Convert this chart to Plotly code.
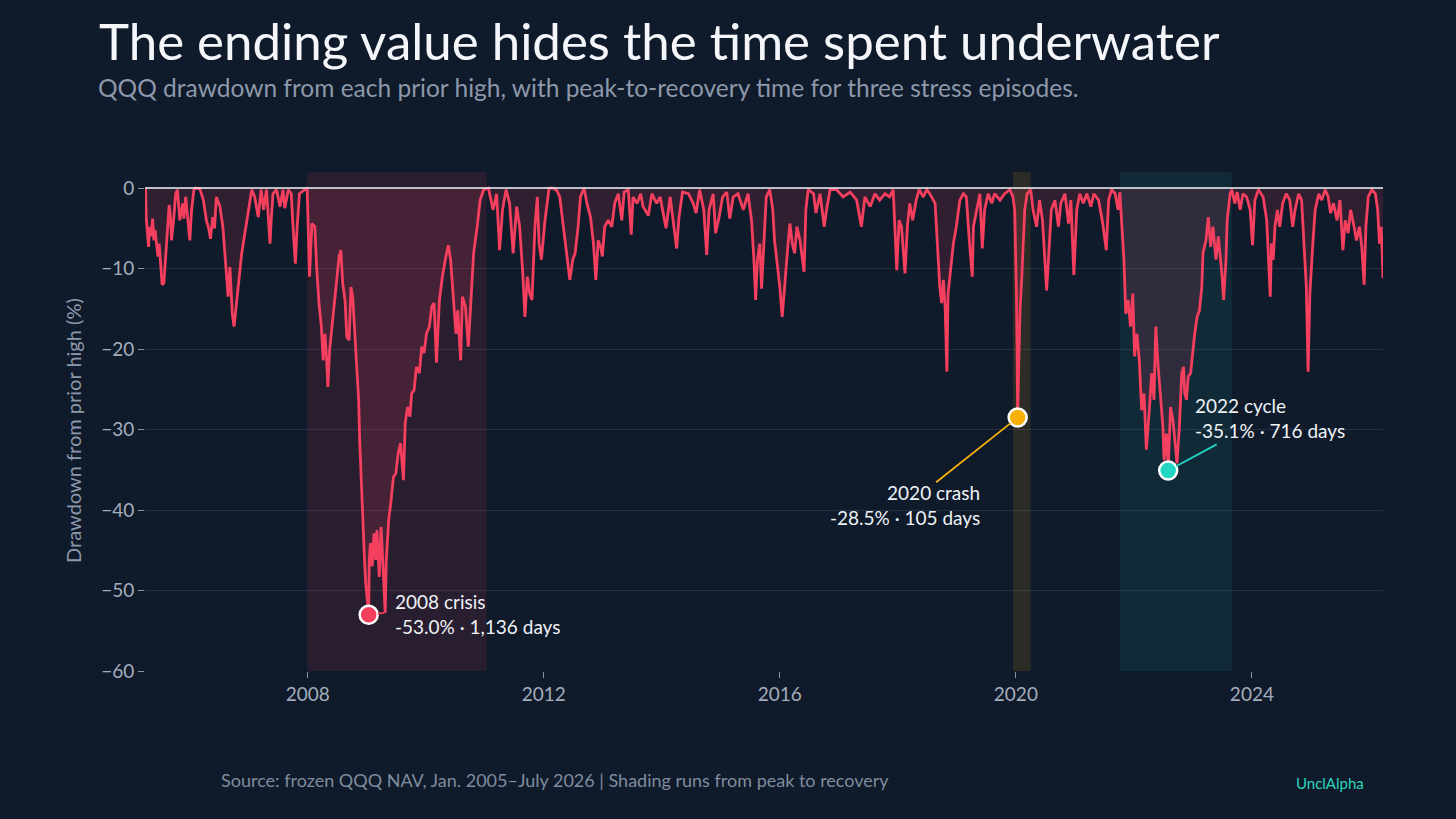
import numpy as np
import pandas as pd
import plotly.graph_objects as go

# drawdown readings: decimal year and % below the prior high
dd_year = [
    2005.25, 2005.26, 2005.30, 2005.32, 2005.34, 2005.37, 2005.39, 2005.41, 2005.46, 2005.48,
    2005.50, 2005.53, 2005.56, 2005.58, 2005.62, 2005.65, 2005.67, 2005.69, 2005.73, 2005.76,
    2005.79, 2005.83, 2005.88, 2005.90, 2005.93, 2005.97, 2006.00, 2006.03, 2006.07, 2006.10,
    2006.17, 2006.23, 2006.28, 2006.32, 2006.35, 2006.39, 2006.42, 2006.45, 2006.51, 2006.56,
    2006.59, 2006.62, 2006.65, 2006.68, 2006.72, 2006.75, 2006.78, 2006.82, 2006.88, 2006.93,
    2006.99, 2007.05, 2007.10, 2007.16, 2007.21, 2007.25, 2007.30, 2007.36, 2007.38, 2007.41,
    2007.47, 2007.53, 2007.58, 2007.61, 2007.67, 2007.72, 2007.75, 2007.79, 2007.82, 2007.86,
    2007.95, 2007.99,
    2008.03, 2008.07, 2008.12, 2008.15, 2008.19, 2008.23, 2008.26, 2008.29, 2008.32, 2008.34,
    2008.37, 2008.42, 2008.46, 2008.50, 2008.53, 2008.56, 2008.59, 2008.63, 2008.66, 2008.70,
    2008.73, 2008.76, 2008.80, 2008.82, 2008.86, 2008.88, 2008.90, 2008.92, 2008.94, 2008.96,
    2008.98, 2009.01, 2009.03, 2009.04, 2009.06, 2009.09, 2009.12, 2009.15, 2009.17, 2009.21,
    2009.24, 2009.28, 2009.31, 2009.33, 2009.37, 2009.41, 2009.45, 2009.49, 2009.53, 2009.57,
    2009.62, 2009.65, 2009.69, 2009.73, 2009.76, 2009.80, 2009.84, 2009.89, 2009.93, 2009.97,
    2010.01, 2010.06, 2010.10, 2010.14, 2010.18, 2010.23, 2010.28, 2010.33, 2010.38, 2010.42,
    2010.46, 2010.51, 2010.54, 2010.59, 2010.62, 2010.67, 2010.72, 2010.77, 2010.81, 2010.87,
    2010.92, 2010.98, 2011.06, 2011.14, 2011.20, 2011.25, 2011.30, 2011.36, 2011.42, 2011.48,
    2011.54, 2011.59, 2011.64, 2011.68, 2011.72, 2011.76, 2011.80, 2011.85, 2011.89, 2011.92,
    2011.96, 2012.02, 2012.09, 2012.16, 2012.22,
    2012.27, 2012.33, 2012.38, 2012.44, 2012.49, 2012.53, 2012.58, 2012.62, 2012.68, 2012.73,
    2012.79, 2012.84, 2012.88, 2012.92, 2012.96, 2012.99, 2013.03, 2013.09, 2013.15, 2013.20,
    2013.26, 2013.32, 2013.36, 2013.43, 2013.48, 2013.51, 2013.58, 2013.64, 2013.68, 2013.77,
    2013.83, 2013.91, 2013.97, 2014.07, 2014.14, 2014.20, 2014.25, 2014.29, 2014.35, 2014.45,
    2014.53, 2014.58, 2014.64, 2014.71, 2014.76, 2014.80, 2014.87, 2014.91, 2014.97, 2015.03,
    2015.10, 2015.15, 2015.21, 2015.29, 2015.38, 2015.46, 2015.52, 2015.56, 2015.59, 2015.62,
    2015.66, 2015.69, 2015.73, 2015.77, 2015.83, 2015.88, 2015.91, 2015.95, 2016.00, 2016.04,
    2016.09, 2016.13, 2016.17, 2016.21, 2016.25, 2016.29, 2016.34, 2016.38, 2016.41, 2016.44,
    2016.48, 2016.57, 2016.61, 2016.68, 2016.75, 2016.79, 2016.85, 2016.96, 2017.07, 2017.19,
    2017.30, 2017.38, 2017.44, 2017.53, 2017.61, 2017.69, 2017.78, 2017.86, 2017.92, 2017.98,
    2018.02, 2018.06, 2018.12, 2018.16, 2018.20, 2018.25, 2018.31, 2018.36, 2018.43, 2018.49,
    2018.54, 2018.63, 2018.68, 2018.71, 2018.74, 2018.77, 2018.80, 2018.83, 2018.85, 2018.89,
    2018.94, 2018.99, 2019.05, 2019.11, 2019.16, 2019.21, 2019.26, 2019.28, 2019.33,
    2019.39, 2019.43, 2019.47, 2019.53, 2019.59, 2019.64, 2019.73, 2019.81, 2019.90, 2019.95,
    2019.98, 2020.01, 2020.03, 2020.05, 2020.07, 2020.10, 2020.12, 2020.15, 2020.19, 2020.25,
    2020.29, 2020.35, 2020.40, 2020.45, 2020.52, 2020.56, 2020.60, 2020.66, 2020.72, 2020.76,
    2020.83, 2020.89, 2020.93, 2020.98, 2021.03, 2021.08, 2021.14, 2021.20, 2021.27, 2021.32,
    2021.40, 2021.47, 2021.53, 2021.57, 2021.62, 2021.68, 2021.73, 2021.76,
    2021.79, 2021.83, 2021.86, 2021.90, 2021.94, 2021.98, 2022.01, 2022.05, 2022.09, 2022.13,
    2022.17, 2022.21, 2022.26, 2022.30, 2022.34, 2022.37, 2022.41, 2022.45, 2022.49, 2022.51,
    2022.55, 2022.58, 2022.62, 2022.66, 2022.70, 2022.73, 2022.77, 2022.81, 2022.84, 2022.86,
    2022.89, 2022.92, 2022.96, 2023.00, 2023.03, 2023.07, 2023.11, 2023.15, 2023.17, 2023.22,
    2023.26, 2023.30, 2023.34, 2023.39, 2023.43, 2023.49, 2023.52, 2023.56, 2023.58, 2023.63,
    2023.66,
    2023.71, 2023.75, 2023.80, 2023.85, 2023.91, 2023.97, 2024.01, 2024.05, 2024.11, 2024.19,
    2024.25, 2024.28, 2024.31, 2024.33, 2024.36, 2024.39, 2024.43, 2024.47, 2024.52, 2024.58,
    2024.64, 2024.69, 2024.73, 2024.79, 2024.84, 2024.88, 2024.92, 2024.95, 2024.98, 2025.03,
    2025.07, 2025.13, 2025.18, 2025.24, 2025.29, 2025.33, 2025.38, 2025.44, 2025.49, 2025.54,
    2025.58, 2025.63, 2025.67, 2025.73, 2025.77, 2025.82, 2025.86, 2025.90, 2025.93, 2025.97,
    2026.03, 2026.09, 2026.13, 2026.16, 2026.19, 2026.22,
]
dd_pct = [
    0.0, -3.6, -7.3, -4.8, -6.0, -3.8, -6.5, -5.2, -8.5, -6.9,
    -8.9, -12.0, -11.8, -9.8, -5.6, -2.1, -3.4, -6.5, -3.6, -0.7,
    -0.2, -4.0, -1.9, -3.8, -1.1, -4.8, -6.5, -2.7, -0.2, 0.0,
    -0.1, -1.5, -4.0, -5.0, -6.3, -3.6, -5.0, -1.1, -2.3, -4.8,
    -7.7, -10.2, -13.5, -9.8, -15.6, -17.2, -14.7, -12.3, -8.1, -5.6,
    -2.7, -0.2, -1.1, -3.6, -0.2, -2.7, -0.2, -6.9, -4.0, -0.7,
    -0.2, -2.3, -0.2, -2.5, -0.2, -0.7, -4.8, -9.4, -4.8, -0.7,
    -0.2, 0.0,
    -11.0, -4.4, -4.8, -9.8, -14.3, -17.2, -21.4, -18.1, -21.4, -24.7,
    -20.1, -16.4, -13.1, -10.2, -8.5, -7.7, -11.8, -13.9, -18.5, -18.9,
    -12.3, -13.5, -18.5, -22.2, -26.3, -31.7, -35.9, -40.0, -44.1, -46.2,
    -49.1, -51.2, -53.0, -46.2, -44.1, -47.0, -42.9, -46.2, -42.5, -48.3,
    -42.1, -47.9, -52.8, -46.2, -41.2, -38.8, -35.9, -35.5, -33.0, -31.7,
    -36.3, -29.2, -27.2, -28.4, -25.5, -25.1, -22.2, -23.0, -19.7, -20.5,
    -18.1, -17.2, -14.7, -14.3, -21.7, -13.9, -11.0, -8.9, -7.1, -8.9,
    -13.5, -18.1, -15.2, -21.4, -13.5, -14.7, -19.7, -13.1, -8.1, -4.8,
    -1.5, -0.2, 0.0, -2.7, -0.7, -7.7, -2.7, -0.2, -1.9, -8.1,
    -2.3, -4.8, -10.2, -16.0, -11.0, -13.1, -13.9, -4.8, -1.1, -6.9,
    -8.9, -4.0, 0.0, 0.0, -0.3,
    -1.1, -4.8, -8.1, -11.4, -8.9, -8.1, -4.8, -1.1, 0.0, -1.9,
    -3.6, -6.9, -11.4, -6.5, -7.3, -8.5, -4.8, -4.0, -4.8, -1.9,
    -0.7, -4.0, -0.5, -0.2, -5.8, -1.1, -1.9, -0.7, -2.3, -3.4,
    -0.7, -1.9, -1.1, -5.0, -1.1, -4.4, -7.5, -3.6, -0.5, -0.7,
    -1.9, -3.1, -0.2, -2.7, -8.3, -2.7, -0.7, -5.6, -3.6, -1.1,
    -0.5, -3.8, -1.1, -0.7, -2.7, -0.7, -4.0, -8.9, -13.9, -8.9,
    -6.9, -12.5, -6.0, -1.1, -0.2, -2.7, -6.5, -8.9, -12.3, -16.0,
    -11.0, -7.7, -4.4, -6.9, -8.1, -4.8, -6.5, -8.9, -10.4, -2.7,
    -0.2, -0.7, -3.1, -0.7, -4.8, -2.7, -0.2, -0.2, -1.1, -0.5,
    -1.5, -4.8, -1.1, -2.3, -0.7, -1.5, -0.7, -1.1, -0.2, -10.2,
    -4.0, -4.8, -10.6, -4.8, -1.9, -4.0, -1.5, -0.2, -1.1, -0.2,
    -0.7, -1.9, -8.1, -12.3, -14.3, -11.4, -14.7, -22.8, -13.1, -10.2,
    -6.9, -4.8, -1.5, -0.7, -1.1, -6.5, -11.0, -4.8, -2.7,
    -0.7, -7.5, -2.7, -0.7, -1.9, -0.7, -1.5, -0.7, -0.2, -1.1,
    -2.7, -13.1, -28.5, -21.4, -15.2, -11.0, -6.9, -2.7, -0.7, -0.2,
    -2.7, -4.8, -1.5, -4.0, -12.7, -6.9, -2.7, -1.5, -4.8, -1.9,
    -0.7, -4.4, -1.5, -10.8, -2.7, -0.7, -1.9, -0.7, -2.3, -0.7,
    -1.5, -4.4, -7.7, -1.5, -0.2, -0.7, -2.7, -0.5,
    -4.8, -9.0, -15.6, -13.9, -17.2, -13.1, -20.9, -18.1, -21.4, -27.6,
    -25.5, -32.5, -27.6, -23.0, -26.3, -17.2, -22.2, -25.5, -29.6, -33.8,
    -30.5, -35.1, -27.2, -28.8, -32.1, -34.2, -29.6, -23.0, -22.2, -25.5,
    -26.3, -23.4, -23.0, -19.7, -18.1, -16.0, -15.2, -12.3, -8.1, -6.5,
    -3.6, -7.3, -4.8, -8.9, -6.0, -10.6, -13.9, -9.0, -4.0, -0.7,
    -0.2,
    -1.9, -0.5, -2.7, -0.7, -1.1, -2.7, -7.1, -1.5, -0.2, -1.1,
    -4.0, -8.9, -13.5, -6.9, -8.9, -4.8, -2.7, -4.8, -1.9, -0.7,
    -1.5, -4.8, -2.7, -0.7, -1.5, -6.9, -12.3, -22.8, -13.1, -6.9,
    -2.7, -0.7, -1.5, -0.2, -1.1, -3.1, -1.9, -4.0, -1.5, -7.7,
    -4.0, -5.6, -2.7, -4.8, -6.5, -4.8, -7.3, -12.0, -4.8, -1.1,
    -0.2, -0.7, -2.7, -6.9, -4.8, -11.2,
]

# stress episodes: peak, recovery, trough
episode_names = ["2008 crisis", "2020 crash", "2022 cycle"]
episode_peak = [2007.99, 2019.95, 2021.76]
episode_recovery = [2011.03, 2020.25, 2023.66]
trough_year = [2009.03, 2020.03, 2022.58]
trough_pct = [-53.0, -28.5, -35.1]
episode_days = [1136, 105, 716]

y_ticks = [0, -10, -20, -30, -40, -50, -60]
x_tick_years = [2008, 2012, 2016, 2020, 2024]

BG = "#0f1a2a"
RED = "#f43f5e"
episode_colors = [RED, "#f5b10a", "#22d6c4"]
episode_rgb = ["244,63,94", "245,177,10", "34,214,196"]
episode_alpha = [0.11, 0.12, 0.09]

# label placement relative to the trough marker (pixels)
label_dx = [24, -36, 25]
label_dy = [1, -88, 53]
label_anchor = ["left", "right", "left"]
arrow_ax = [17, -83, 50]
arrow_ay = [-2, 66, -27]


def to_date(y):
    year = int(np.floor(y))
    start = pd.Timestamp(year=year, month=1, day=1)
    end = pd.Timestamp(year=year + 1, month=1, day=1)
    return start + (end - start) * (y - year)


dates = [to_date(y) for y in dd_year]

fig = go.Figure()

fig.add_trace(go.Scatter(
    x=dates, y=dd_pct, mode="lines",
    line=dict(color=RED, width=2.8),
    fill="tozeroy", fillcolor="rgba(244,63,94,0.15)",
    hoverinfo="skip", showlegend=False,
))

fig.add_trace(go.Scatter(
    x=[to_date(y) for y in trough_year], y=trough_pct, mode="markers",
    marker=dict(size=18, color=episode_colors, line=dict(color="white", width=2.5)),
    hoverinfo="skip", showlegend=False,
))

for i in range(len(episode_names)):
    fig.add_shape(
        type="rect", xref="x", yref="paper",
        x0=to_date(episode_peak[i]), x1=to_date(episode_recovery[i]), y0=0, y1=1,
        fillcolor=f"rgba({episode_rgb[i]},{episode_alpha[i]})",
        line=dict(width=0), layer="below",
    )
    # connector
    fig.add_annotation(
        x=to_date(trough_year[i]), y=trough_pct[i], text="",
        showarrow=True, arrowhead=0, arrowwidth=1.8, arrowcolor=episode_colors[i],
        ax=arrow_ax[i], ay=arrow_ay[i], standoff=9,
    )
    fig.add_annotation(
        x=to_date(trough_year[i]), y=trough_pct[i],
        text=f"{episode_names[i]}<br>{trough_pct[i]:.1f}% · {episode_days[i]:,} days",
        showarrow=False, xanchor=label_anchor[i], yanchor="middle",
        align=label_anchor[i], xshift=label_dx[i], yshift=label_dy[i],
        font=dict(size=19, color="#eef2f6"),
    )

# zero line on top
fig.add_shape(type="line", xref="paper", yref="y", x0=0, x1=1, y0=0, y1=0,
              line=dict(color="#f1f4f8", width=1.5), layer="above")

fig.add_annotation(
    text="The ending value hides the time spent underwater",
    xref="paper", yref="paper", x=-0.0388, y=1.264,
    xanchor="left", yanchor="middle", showarrow=False,
    font=dict(size=51, color="#f4f6f9"),
)
fig.add_annotation(
    text="QQQ drawdown from each prior high, with peak-to-recovery time for three stress episodes.",
    xref="paper", yref="paper", x=-0.0396, y=1.1703,
    xanchor="left", yanchor="middle", showarrow=False,
    font=dict(size=24.5, color="#8d98aa"),
)
fig.add_annotation(
    text="Drawdown from prior high (%)", textangle=-90,
    xref="paper", yref="paper", x=-0.0582, y=0.483,
    xanchor="center", yanchor="middle", showarrow=False,
    font=dict(size=20, color="#8d98aa"),
)
fig.add_annotation(
    text="Source: frozen QQQ NAV, Jan. 2005–July 2026 | Shading runs from peak to recovery",
    xref="paper", yref="paper", x=0.0598, y=-0.2184,
    xanchor="left", yanchor="middle", showarrow=False,
    font=dict(size=18, color="#7f8c9e"),
)
fig.add_annotation(
    text="UnclAlpha",
    xref="paper", yref="paper", x=0.928, y=-0.2244,
    xanchor="left", yanchor="middle", showarrow=False,
    font=dict(size=15, color="#2dd4bf"),
)

fig.update_layout(
    width=1456, height=819,
    margin=dict(l=145, r=73, t=172, b=148),
    paper_bgcolor=BG, plot_bgcolor=BG,
    font=dict(family="Lato, 'Noto Sans', sans-serif", color="#a3adbb"),
    showlegend=False,
)
fig.update_xaxes(
    type="date", range=[to_date(2005.24), to_date(2026.22)],
    tickvals=[to_date(y) for y in x_tick_years], ticktext=[str(y) for y in x_tick_years],
    ticks="outside", ticklen=6, tickcolor="#8793a3", tickwidth=1,
    tickfont=dict(size=19, color="#a3adbb"),
    showgrid=False, zeroline=False, showline=False,
)
fig.update_yaxes(
    range=[-60, 2], tickvals=y_ticks,
    ticks="outside", ticklen=6, tickcolor="#8793a3", tickwidth=1,
    tickfont=dict(size=19, color="#a3adbb"),
    gridcolor="rgba(148,163,184,0.16)", gridwidth=1,
    zeroline=False, showline=False,
)

fig.write_html(
    "out.html",
    config={"displayModeBar": False},
    post_script="document.body.style.margin='0';document.body.style.background='" + BG + "';",
)
